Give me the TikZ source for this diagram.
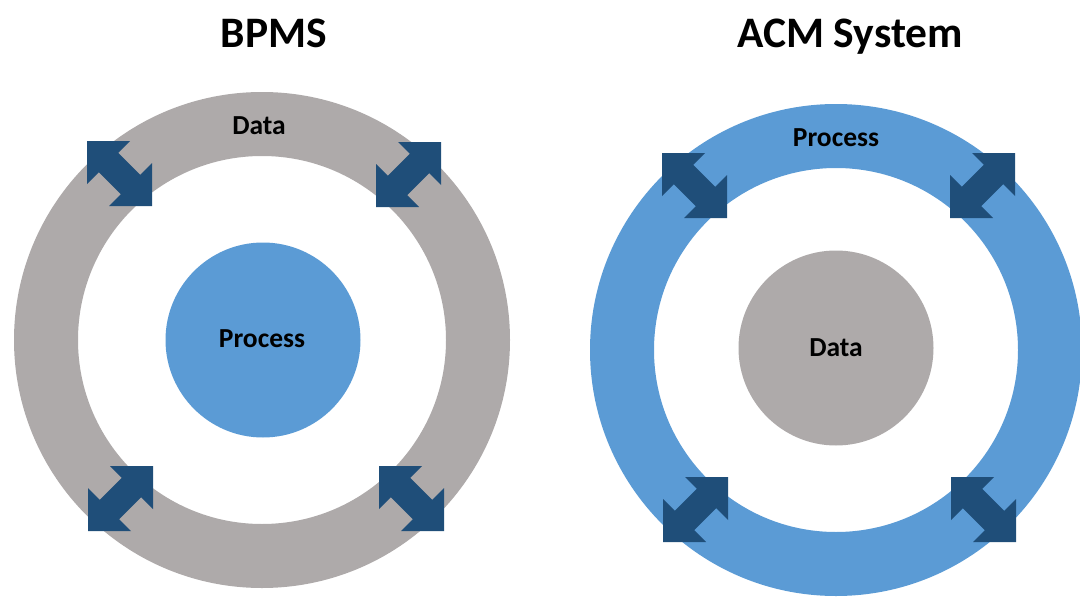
\documentclass[tikz,border=0pt]{standalone}
\usepackage{fontspec}
\setmainfont{Carlito}
\definecolor{ringgray}{HTML}{AEAAAA}
\definecolor{ringblue}{HTML}{5B9BD5}
\definecolor{arrowblue}{HTML}{1F4E79}
\tikzset{
  dblarrow/.pic={
    \fill[arrowblue] (0,0) -- (43,0) -- (31.2,11.8) -- (53.2,33.8) -- (65,22) -- (65,65)
      -- (22,65) -- (33.8,53.2) -- (11.8,31.2) -- (0,43) -- cycle;
  },
  title/.style={font=\fontsize{43.5}{50}\selectfont\bfseries, anchor=base, inner sep=0pt},
  label/.style={font=\fontsize{27.5}{32}\selectfont\bfseries, anchor=base, inner sep=0pt},
  disk/.style={circle, inner sep=0pt, minimum size=195pt},
}
\begin{document}
\begin{tikzpicture}[x=1pt,y=-1pt]
\useasboundingbox (0,0) rectangle (1080,597);
% left: BPMS
\coordinate (lc) at (262,340);
\fill[ringgray, even odd rule] (lc) circle[radius=248] (lc) circle[radius=184];
\node[disk, fill=ringblue] (ldisk) at (263,340) {};
\node[title] (ltitle) at (274,47) {BPMS};
\node[label] (lring) at (259,134) {Data};
\node[label] (lin) at (262,347) {Process};
\pic (la1) at (87,141) {dblarrow};
\pic[xscale=-1] (la2) at (441,142) {dblarrow};
\pic[xscale=-1] (la3) at (153,466) {dblarrow};
\pic (la4) at (379,466) {dblarrow};
% right: ACM System
\coordinate (rc) at (836,350);
\fill[ringblue, even odd rule] (rc) circle[radius=246] (rc) circle[radius=182];
\node[disk, fill=ringgray] (rdisk) at (836,348) {};
\node[title] (rtitle) at (850,47) {ACM System};
\node[label] (rring) at (836,146) {Process};
\node[label] (rin) at (836,356) {Data};
\pic (ra1) at (662,153) {dblarrow};
\pic[xscale=-1] (ra2) at (1015,153) {dblarrow};
\pic[xscale=-1] (ra3) at (728,477) {dblarrow};
\pic (ra4) at (951,477) {dblarrow};
\end{tikzpicture}
\end{document}
